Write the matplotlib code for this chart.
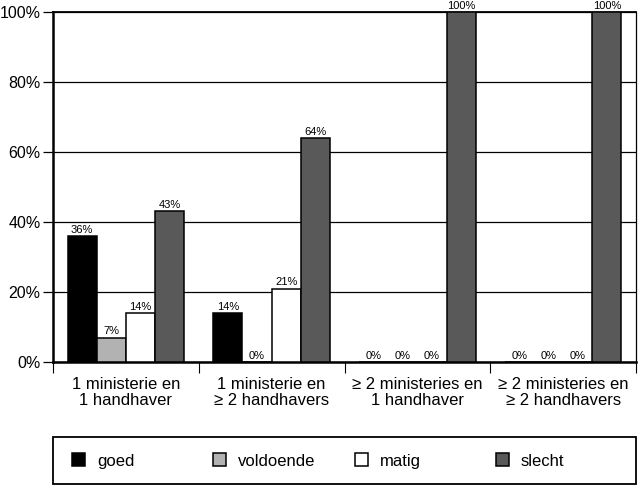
import numpy as np
import matplotlib
matplotlib.use("Agg")
import matplotlib.pyplot as plt
from matplotlib.patches import Patch, Rectangle

# data
categories = ["1 ministerie en\n1 handhaver",
              "1 ministerie en\n\u2265 2 handhavers",
              "\u2265 2 ministeries en\n1 handhaver",
              "\u2265 2 ministeries en\n\u2265 2 handhavers"]
series = ["goed", "voldoende", "matig", "slecht"]
goed = [36, 14, 0, 0]
voldoende = [7, 0, 0, 0]
matig = [14, 21, 0, 0]
slecht = [43, 64, 100, 100]
colors = ["#000000", "#b2b2b2", "#ffffff", "#595959"]

plt.rcParams['font.family'] = ['Liberation Sans', 'DejaVu Sans']

W, H = 638, 486
fig = plt.figure(figsize=(W / 100, H / 100), dpi=100)
ax = fig.add_axes([53/W, 124/H, 583/W, 350/H])

x = np.arange(len(categories))
w = 0.2
values = [goed, voldoende, matig, slecht]
for i, (vals, col) in enumerate(zip(values, colors)):
    pos = x + (i - 1.5) * w
    ax.bar(pos, vals, width=w, color=col, edgecolor="black", linewidth=1.1, zorder=3)
    for p, v in zip(pos, vals):
        ax.text(p, v + 0.3, "%d%%" % v, ha="center", va="bottom", fontsize=8, zorder=4)

ax.set_xlim(-0.5, len(categories) - 0.5)
ax.set_ylim(0, 100)
ax.set_yticks([0, 20, 40, 60, 80, 100])
ax.set_yticklabels(["%d%%" % t for t in [0, 20, 40, 60, 80, 100]], fontsize=11.5)
ax.yaxis.grid(True, color="black", linewidth=0.9, zorder=0)
ax.tick_params(axis="y", length=7, width=0.9, pad=2)

ax.set_xticks(x)
ax.set_xticklabels(categories, fontsize=12, linespacing=1.1)
ax.set_xticks(np.arange(len(categories) + 1) - 0.5, minor=True)
ax.tick_params(axis="x", which="major", length=0, pad=11)
ax.tick_params(axis="x", which="minor", length=8, width=0.8)

for s in ["left", "bottom"]:
    ax.spines[s].set_linewidth(1.8)
ax.spines["top"].set_linewidth(1.3)
ax.spines["right"].set_linewidth(0.9)

# legend: framed box with four evenly spaced entries
fig.patches.append(Rectangle((53/W, 2/H), 583/W, 47/H, transform=fig.transFigure,
                             facecolor="none", edgecolor="black", linewidth=1.3))
entry_x = [72, 213, 355, 496]
for name, col, ex in zip(series, colors, entry_x):
    h = Patch(facecolor=col, edgecolor="black", linewidth=1.1)
    fig.legend([h], [name], loc="center left", bbox_to_anchor=(ex/W, 25/H),
               fontsize=12, frameon=False, borderpad=0, borderaxespad=0,
               handlelength=0.78, handleheight=0.78, handletextpad=0.72)

fig.savefig("out.png", dpi=100)
